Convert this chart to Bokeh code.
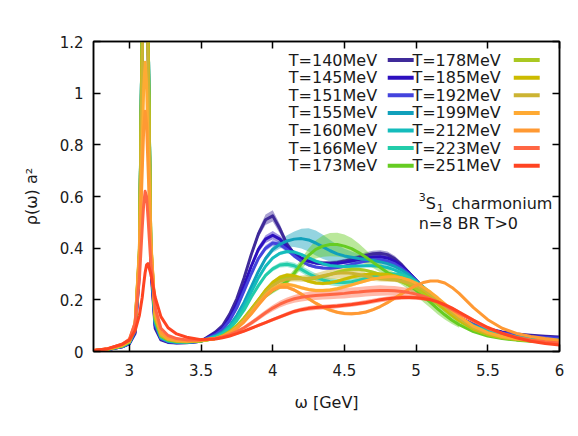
import numpy as np
from bokeh.plotting import figure
from bokeh.models import Range1d, FixedTicker, LinearAxis, Label
from bokeh.embed import file_html
from bokeh.resources import INLINE
from bokeh.core.properties import value

# ---------------- data ----------------
omega = [2.75, 2.85, 2.95, 3.0, 3.04, 3.07, 3.09, 3.1, 3.11, 3.12, 3.13, 3.15, 3.18, 3.22, 3.27, 3.33, 3.4, 3.5,
         3.6, 3.65, 3.7, 3.75, 3.8, 3.85, 3.9, 3.95, 4.0, 4.05, 4.1, 4.15, 4.2, 4.25, 4.3, 4.35, 4.4, 4.45,
         4.5, 4.55, 4.6, 4.65, 4.7, 4.75, 4.8, 4.85, 4.9, 4.95, 5.0, 5.05, 5.1, 5.15, 5.2, 5.25, 5.3,
         5.4, 5.5, 5.6, 5.7, 5.8, 5.9, 6.0]
BAND_START, BAND_END = 18, 53   # band arrays cover omega[18:53] (3.6 .. 5.3)

temps = ["140", "145", "151", "155", "160", "166", "173",
         "178", "185", "192", "199", "212", "223", "251"]
colors = ["#3f2a9a", "#2d0fbf", "#4444dd", "#11a0bb", "#14bcbc", "#22ccaa", "#66cc22",
          "#aac822", "#ccbb00", "#ccb433", "#ffaa33", "#ff9933", "#ff6644", "#ff4422"]

rho_140 = [0.003, 0.008, 0.018, 0.03, 0.07, 0.3, 1.2, 2.1, 2.6, 2.1, 1.2, 0.32, 0.09, 0.045, 0.035, 0.033, 0.034, 0.04,
           0.075, 0.10, 0.145, 0.205, 0.285, 0.375, 0.455, 0.51, 0.525, 0.475,
           0.415, 0.378, 0.36, 0.35, 0.345, 0.342, 0.342, 0.345, 0.35, 0.357,
           0.365, 0.373, 0.378, 0.38, 0.375, 0.36, 0.335, 0.305, 0.275, 0.245,
           0.215, 0.19, 0.165, 0.145, 0.13,
           0.105, 0.088, 0.076, 0.068, 0.063, 0.059, 0.056]
rho_145 = [0.003, 0.008, 0.018, 0.031, 0.075, 0.32, 1.25, 2.15, 2.6, 2.15, 1.25, 0.34, 0.1, 0.048, 0.037, 0.034, 0.035, 0.04,
           0.07, 0.09, 0.13, 0.185, 0.255, 0.33, 0.395, 0.435, 0.45, 0.435,
           0.405, 0.38, 0.36, 0.35, 0.343, 0.34, 0.34, 0.342, 0.345, 0.35,
           0.356, 0.362, 0.366, 0.367, 0.362, 0.35, 0.33, 0.305, 0.277, 0.248,
           0.22, 0.193, 0.168, 0.147, 0.13,
           0.104, 0.086, 0.074, 0.066, 0.06, 0.056, 0.053]
rho_151 = [0.003, 0.008, 0.019, 0.032, 0.078, 0.33, 1.3, 2.2, 2.6, 2.2, 1.3, 0.36, 0.105, 0.05, 0.038, 0.035, 0.035, 0.04,
           0.065, 0.085, 0.12, 0.17, 0.235, 0.3, 0.36, 0.4, 0.42, 0.415,
           0.395, 0.37, 0.35, 0.335, 0.327, 0.323, 0.322, 0.325, 0.33, 0.337,
           0.344, 0.35, 0.354, 0.355, 0.35, 0.34, 0.322, 0.3, 0.274, 0.247,
           0.22, 0.194, 0.17, 0.149, 0.131,
           0.104, 0.085, 0.072, 0.064, 0.058, 0.054, 0.051]
rho_155 = [0.003, 0.009, 0.02, 0.034, 0.082, 0.34, 1.3, 2.2, 2.5, 2.2, 1.3, 0.37, 0.11, 0.053, 0.04, 0.036, 0.036, 0.04,
           0.06, 0.075, 0.1, 0.14, 0.19, 0.25, 0.31, 0.36, 0.395, 0.415,
           0.428, 0.435, 0.437, 0.432, 0.42, 0.405, 0.39, 0.378, 0.37, 0.365,
           0.36, 0.356, 0.352, 0.347, 0.34, 0.33, 0.315, 0.296, 0.273, 0.248,
           0.222, 0.196, 0.172, 0.15, 0.13,
           0.1, 0.08, 0.067, 0.058, 0.052, 0.048, 0.045]
rho_160 = [0.003, 0.009, 0.02, 0.035, 0.085, 0.35, 1.3, 2.2, 2.5, 2.2, 1.3, 0.38, 0.115, 0.055, 0.041, 0.037, 0.037, 0.041,
           0.058, 0.07, 0.095, 0.13, 0.175, 0.23, 0.285, 0.33, 0.362, 0.38,
           0.387, 0.385, 0.375, 0.362, 0.35, 0.34, 0.333, 0.33, 0.329, 0.33,
           0.331, 0.332, 0.332, 0.33, 0.325, 0.316, 0.303, 0.287, 0.267, 0.245,
           0.221, 0.197, 0.173, 0.151, 0.131,
           0.1, 0.079, 0.065, 0.056, 0.05, 0.046, 0.043]
rho_166 = [0.003, 0.009, 0.021, 0.036, 0.088, 0.36, 1.3, 2.1, 2.4, 2.1, 1.3, 0.39, 0.12, 0.057, 0.043, 0.038, 0.037, 0.041,
           0.055, 0.067, 0.088, 0.12, 0.16, 0.21, 0.255, 0.295, 0.32, 0.335,
           0.338, 0.332, 0.318, 0.302, 0.288, 0.277, 0.27, 0.267, 0.267, 0.27,
           0.276, 0.283, 0.29, 0.296, 0.3, 0.3, 0.296, 0.286, 0.27, 0.25,
           0.227, 0.202, 0.177, 0.153, 0.132,
           0.098, 0.076, 0.062, 0.053, 0.047, 0.043, 0.04]
rho_173 = [0.003, 0.009, 0.021, 0.037, 0.09, 0.37, 1.3, 2.0, 2.3, 2.0, 1.3, 0.4, 0.125, 0.06, 0.044, 0.039, 0.038, 0.041,
           0.05, 0.06, 0.077, 0.1, 0.125, 0.16, 0.19, 0.215, 0.235, 0.252,
           0.272, 0.303, 0.34, 0.372, 0.395, 0.408, 0.414, 0.414, 0.408, 0.398,
           0.383, 0.365, 0.345, 0.325, 0.306, 0.29, 0.274, 0.257, 0.237, 0.214,
           0.19, 0.165, 0.142, 0.121, 0.104,
           0.077, 0.06, 0.05, 0.044, 0.04, 0.037, 0.035]
rho_178 = [0.003, 0.009, 0.022, 0.038, 0.093, 0.38, 1.25, 1.95, 2.2, 1.95, 1.25, 0.41, 0.13, 0.062, 0.046, 0.04, 0.038, 0.042,
           0.05, 0.06, 0.077, 0.1, 0.13, 0.165, 0.2, 0.235, 0.262, 0.28,
           0.288, 0.288, 0.284, 0.282, 0.284, 0.29, 0.298, 0.307, 0.314, 0.318,
           0.318, 0.314, 0.307, 0.298, 0.289, 0.28, 0.27, 0.258, 0.243, 0.225,
           0.205, 0.183, 0.16, 0.138, 0.118,
           0.085, 0.065, 0.053, 0.046, 0.041, 0.038, 0.036]
rho_185 = [0.003, 0.01, 0.022, 0.039, 0.096, 0.39, 1.2, 1.85, 2.1, 1.85, 1.2, 0.42, 0.135, 0.064, 0.047, 0.041, 0.039, 0.042,
           0.05, 0.06, 0.076, 0.098, 0.128, 0.163, 0.2, 0.238, 0.268, 0.288,
           0.296, 0.293, 0.283, 0.272, 0.265, 0.263, 0.266, 0.272, 0.28, 0.288,
           0.294, 0.298, 0.3, 0.3, 0.298, 0.293, 0.285, 0.273, 0.257, 0.237,
           0.214, 0.19, 0.166, 0.143, 0.122,
           0.088, 0.067, 0.054, 0.047, 0.042, 0.039, 0.037]
rho_192 = [0.003, 0.01, 0.023, 0.04, 0.1, 0.4, 1.15, 1.7, 1.9, 1.7, 1.15, 0.43, 0.14, 0.066, 0.048, 0.042, 0.04, 0.043,
           0.05, 0.059, 0.074, 0.095, 0.123, 0.157, 0.193, 0.228, 0.255, 0.272,
           0.28, 0.282, 0.282, 0.283, 0.287, 0.293, 0.299, 0.303, 0.305, 0.303,
           0.298, 0.291, 0.285, 0.281, 0.279, 0.277, 0.273, 0.266, 0.255, 0.24,
           0.22, 0.198, 0.174, 0.15, 0.128,
           0.092, 0.07, 0.056, 0.048, 0.043, 0.04, 0.038]
rho_199 = [0.004, 0.01, 0.025, 0.042, 0.105, 0.38, 0.8, 1.02, 1.12, 1.04, 0.82, 0.42, 0.15, 0.072, 0.05, 0.043, 0.041, 0.043,
           0.05, 0.058, 0.072, 0.092, 0.118, 0.15, 0.185, 0.218, 0.243, 0.257,
           0.26, 0.255, 0.247, 0.24, 0.236, 0.236, 0.238, 0.243, 0.25, 0.258,
           0.266, 0.274, 0.281, 0.286, 0.289, 0.289, 0.285, 0.277, 0.265, 0.249,
           0.23, 0.208, 0.184, 0.16, 0.137,
           0.098, 0.073, 0.058, 0.049, 0.044, 0.041, 0.039]
rho_212 = [0.004, 0.01, 0.026, 0.044, 0.11, 0.36, 0.7, 0.86, 0.93, 0.88, 0.72, 0.4, 0.155, 0.075, 0.052, 0.045, 0.042, 0.044,
           0.05, 0.057, 0.07, 0.089, 0.114, 0.145, 0.18, 0.213, 0.238, 0.25,
           0.249, 0.238, 0.222, 0.204, 0.187, 0.172, 0.16, 0.152, 0.147, 0.146,
           0.148, 0.153, 0.162, 0.174, 0.189, 0.206, 0.224, 0.241, 0.256, 0.267,
           0.273, 0.273, 0.265, 0.248, 0.225,
           0.17, 0.123, 0.09, 0.07, 0.058, 0.05, 0.044]
rho_223 = [0.004, 0.011, 0.028, 0.047, 0.11, 0.28, 0.48, 0.57, 0.62, 0.6, 0.52, 0.34, 0.17, 0.09, 0.062, 0.05, 0.045, 0.045,
           0.05, 0.056, 0.065, 0.077, 0.092, 0.11, 0.13, 0.15, 0.168, 0.183,
           0.195, 0.204, 0.21, 0.214, 0.217, 0.219, 0.221, 0.223, 0.225, 0.228,
           0.23, 0.233, 0.235, 0.236, 0.236, 0.235, 0.232, 0.228, 0.222, 0.214,
           0.204, 0.192, 0.178, 0.163, 0.147,
           0.117, 0.09, 0.07, 0.055, 0.045, 0.038, 0.033]
rho_251 = [0.004, 0.011, 0.028, 0.044, 0.08, 0.14, 0.21, 0.26, 0.305, 0.335, 0.34, 0.3, 0.21, 0.135, 0.092, 0.068, 0.055, 0.046,
           0.048, 0.053, 0.06, 0.069, 0.079, 0.09, 0.101, 0.112, 0.123, 0.134,
           0.145, 0.155, 0.162, 0.167, 0.17, 0.172, 0.174, 0.176, 0.179, 0.182,
           0.186, 0.19, 0.195, 0.2, 0.204, 0.207, 0.209, 0.209, 0.208, 0.205,
           0.2, 0.192, 0.181, 0.168, 0.153,
           0.122, 0.093, 0.07, 0.053, 0.04, 0.031, 0.025]

# error bands on omega[18:53]
err_140 = [0.004, 0.005, 0.006, 0.007, 0.008, 0.010, 0.014, 0.020, 0.022, 0.018,
           0.012, 0.009, 0.008, 0.008, 0.008, 0.008, 0.008, 0.008, 0.008, 0.009,
           0.010, 0.011, 0.012, 0.012, 0.012, 0.011, 0.010, 0.009, 0.008, 0.007,
           0.006, 0.006, 0.005, 0.005, 0.005]
err_145 = [0.003, 0.004, 0.005, 0.006, 0.007, 0.009, 0.012, 0.015, 0.016, 0.014,
           0.011, 0.009, 0.008, 0.007, 0.007, 0.007, 0.007, 0.007, 0.007, 0.007,
           0.008, 0.008, 0.009, 0.009, 0.009, 0.008, 0.008, 0.007, 0.007, 0.006,
           0.006, 0.005, 0.005, 0.005, 0.004]
err_151 = [0.003, 0.003, 0.004, 0.005, 0.006, 0.007, 0.009, 0.011, 0.012, 0.011,
           0.010, 0.008, 0.007, 0.006, 0.006, 0.006, 0.006, 0.006, 0.006, 0.006,
           0.006, 0.006, 0.007, 0.007, 0.007, 0.007, 0.006, 0.006, 0.006, 0.005,
           0.005, 0.005, 0.004, 0.004, 0.004]
err_155 = [0.003, 0.003, 0.004, 0.005, 0.006, 0.007, 0.008, 0.010, 0.012, 0.016,
           0.022, 0.030, 0.038, 0.045, 0.048, 0.047, 0.042, 0.035, 0.028, 0.022,
           0.017, 0.013, 0.011, 0.010, 0.009, 0.008, 0.008, 0.007, 0.007, 0.006,
           0.006, 0.005, 0.005, 0.004, 0.004]
err_small = [0.003, 0.003, 0.003, 0.004, 0.004, 0.005, 0.005, 0.006, 0.006, 0.007,
             0.007, 0.007, 0.007, 0.007, 0.007, 0.007, 0.007, 0.007, 0.007, 0.007,
             0.006, 0.006, 0.006, 0.006, 0.006, 0.006, 0.005, 0.005, 0.005, 0.005,
             0.004, 0.004, 0.004, 0.004, 0.004]
err_166 = [0.003, 0.003, 0.004, 0.004, 0.005, 0.006, 0.007, 0.008, 0.009, 0.010,
           0.011, 0.012, 0.013, 0.014, 0.014, 0.014, 0.014, 0.014, 0.013, 0.012,
           0.011, 0.010, 0.009, 0.008, 0.008, 0.007, 0.007, 0.006, 0.006, 0.006,
           0.005, 0.005, 0.005, 0.004, 0.004]
err_173 = [0.003, 0.003, 0.004, 0.005, 0.006, 0.007, 0.008, 0.009, 0.010, 0.011,
           0.013, 0.016, 0.020, 0.027, 0.035, 0.041, 0.045, 0.046, 0.045, 0.041,
           0.035, 0.028, 0.022, 0.018, 0.015, 0.015, 0.016, 0.018, 0.020, 0.022,
           0.022, 0.021, 0.018, 0.015, 0.012]
err_192 = [0.003, 0.003, 0.004, 0.004, 0.005, 0.005, 0.006, 0.007, 0.008, 0.009,
           0.010, 0.011, 0.012, 0.014, 0.016, 0.018, 0.020, 0.021, 0.021, 0.020,
           0.018, 0.015, 0.012, 0.010, 0.009, 0.008, 0.008, 0.007, 0.007, 0.006,
           0.006, 0.005, 0.005, 0.005, 0.004]
err_223 = [0.004, 0.005, 0.006, 0.007, 0.008, 0.009, 0.010, 0.011, 0.012, 0.013,
           0.014, 0.015, 0.016, 0.017, 0.018, 0.018, 0.019, 0.019, 0.020, 0.020,
           0.020, 0.020, 0.020, 0.020, 0.019, 0.019, 0.018, 0.017, 0.016, 0.015,
           0.014, 0.013, 0.012, 0.011, 0.010]
err_251 = [0.003, 0.003, 0.004, 0.004, 0.005, 0.005, 0.006, 0.006, 0.007, 0.007,
           0.008, 0.008, 0.008, 0.009, 0.009, 0.009, 0.009, 0.009, 0.009, 0.009,
           0.009, 0.009, 0.009, 0.009, 0.009, 0.009, 0.009, 0.008, 0.008, 0.008,
           0.007, 0.007, 0.007, 0.006, 0.006]

rhos = [rho_140, rho_145, rho_151, rho_155, rho_160, rho_166, rho_173,
        rho_178, rho_185, rho_192, rho_199, rho_212, rho_223, rho_251]
errs = [err_140, err_145, err_151, err_155, err_small, err_166, err_173,
        err_small, err_small, err_192, err_small, err_small, err_223, err_251]

xticks = [3, 3.5, 4, 4.5, 5, 5.5, 6]
xtick_labels = ["3", "3.5", "4", "4.5", "5", "5.5", "6"]
yticks = [0, 0.2, 0.4, 0.6, 0.8, 1, 1.2]
ytick_labels = ["0", "0.2", "0.4", "0.6", "0.8", "1", "1.2"]

FONT = "DejaVu Sans"
TXT = "#1a1a1a"

# ---------------- figure ----------------
p = figure(width=578, height=436, x_range=Range1d(2.75, 6), y_range=Range1d(0, 1.2),
           output_backend="svg", toolbar_location=None,
           min_border_left=93, min_border_right=19, min_border_top=41, min_border_bottom=85)
p.background_fill_color = "white"
p.border_fill_color = "white"
p.grid.visible = False
p.outline_line_color = "black"
p.outline_line_width = 1.5

def style_axis(ax, ticks, labels, show_labels):
    ax.ticker = FixedTicker(ticks=ticks)
    ax.major_label_overrides = {t: l for t, l in zip(ticks, labels)}
    ax.major_tick_in = 7
    ax.major_tick_out = 0
    ax.minor_tick_in = 0
    ax.minor_tick_out = 0
    ax.major_tick_line_color = "black"
    ax.major_tick_line_width = 1.5
    ax.axis_line_color = "black"
    ax.axis_line_width = 1.5
    ax.major_label_text_font = FONT
    ax.major_label_text_font_size = "15px"
    ax.major_label_text_color = TXT if show_labels else None
    ax.axis_label_text_font = FONT
    ax.axis_label_text_font_size = "16px"
    ax.axis_label_text_font_style = "normal"
    ax.axis_label_text_color = TXT

style_axis(p.xaxis[0], xticks, xtick_labels, True)
style_axis(p.yaxis[0], yticks, ytick_labels, True)
p.xaxis.axis_label = "ω [GeV]"
p.yaxis.axis_label = "ρ(ω) a²"
p.xaxis.major_label_standoff = 12
p.yaxis.major_label_standoff = 10
p.xaxis.axis_label_standoff = 14
p.yaxis.axis_label_standoff = 16

top = LinearAxis()
style_axis(top, xticks, ["" for _ in xticks], False)
top.major_label_text_font_size = "0px"
p.add_layout(top, "above")
right = LinearAxis()
style_axis(right, yticks, ["" for _ in yticks], False)
right.major_label_text_font_size = "0px"
p.add_layout(right, "right")

om = np.array(omega)
ob = om[BAND_START:BAND_END]
# bands first
for c, r, e in zip(colors, rhos, errs):
    r = np.array(r)[BAND_START:BAND_END]
    e = np.array(e)
    p.varea(x=ob, y1=r - e, y2=r + e, fill_color=c, fill_alpha=0.45)
# then lines
for c, r in zip(colors, rhos):
    p.line(om, np.array(r), line_color=c, line_width=3, line_join="round")

# ---------------- legend (gnuplot style: label then sample) ----------------
LEG_TEXT_X = [4.728, 5.590]
LEG_SAMPLE_X = [(4.802, 4.983), (5.681, 5.862)]
LEG_Y0, LEG_DY = 1.128, 0.0681
lx, ly, lt, sx0, sx1, sy, sc = [], [], [], [], [], [], []
for i, (t, c) in enumerate(zip(temps, colors)):
    col, row = divmod(i, 7)
    y = LEG_Y0 - row * LEG_DY
    lx.append(LEG_TEXT_X[col]); ly.append(y); lt.append("T=%sMeV" % t)
    sx0.append(LEG_SAMPLE_X[col][0]); sx1.append(LEG_SAMPLE_X[col][1]); sy.append(y); sc.append(c)
p.text(x=lx, y=ly, text=lt, text_font=value(FONT), text_font_size="16px",
       text_align="right", text_baseline="middle", text_color=TXT)
p.segment(x0=sx0, y0=sy, x1=sx1, y1=sy, line_color=sc, line_width=4)

# annotation  3S1 charmonium / n=8 BR T>0
AX, AY1, AY2 = 5.018, 0.572, 0.495
def lab(text, dx, dy, size, y=AY1):
    p.add_layout(Label(x=AX, y=y, x_offset=dx, y_offset=dy, text=text,
                       text_font=FONT, text_font_size=size, text_color=TXT,
                       text_baseline="alphabetic", text_align="left"))
lab("3", 0, 7, "11px")
lab("S", 7, 0, "16px")
lab("1", 18, -4, "11px")
lab("charmonium", 33, 0, "16px")
lab("n=8 BR T>0", 0, 0, "16px", y=AY2)

open("out.html", "w").write(file_html(p, INLINE))
